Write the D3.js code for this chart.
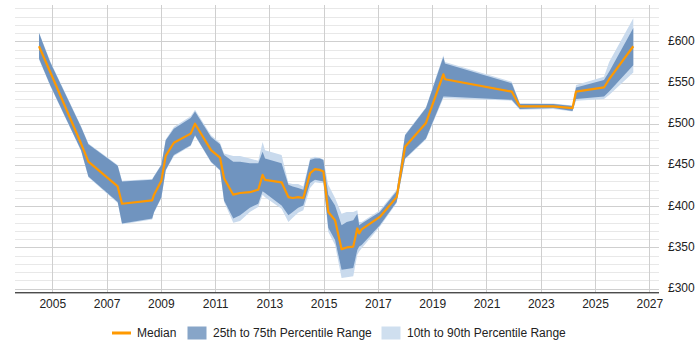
<!DOCTYPE html>
<html>
<head>
<meta charset="utf-8">
<script src="https://cdn.jsdelivr.net/npm/d3@7"></script>
<style>
  html, body { margin: 0; padding: 0; background: #fff; }
  svg { display: block; font-family: "Liberation Sans", Arial, sans-serif; }
</style>
</head>
<body>
<svg id="chart" width="700" height="350"></svg>
<script>
// ---- Data (decimal years, £ per day) ----
const years = [2004.51, 2004.92, 2006.06, 2006.33, 2007.41, 2007.57, 2008.68, 2008.75, 2009.02, 2009.18,
  2009.48, 2010.10, 2010.26, 2010.85, 2011.18, 2011.33, 2011.67, 2011.92, 2012.28, 2012.59,
  2012.75, 2012.84, 2013.45, 2013.70, 2013.86, 2014.06, 2014.25, 2014.50, 2014.68, 2014.86,
  2014.99, 2015.17, 2015.42, 2015.66, 2015.85, 2016.09, 2016.24, 2016.31, 2016.40, 2017.07,
  2017.69, 2018.00, 2018.77, 2019.41, 2019.47, 2021.93, 2022.23, 2023.46, 2024.17, 2024.30,
  2025.33, 2025.52, 2026.41];
const p10 = [578, 546, 467, 435, 404, 378, 384, 392, 410, 443,
  461, 473, 485, 453, 443, 405, 380, 382, 393, 399,
  414, 411, 397, 381, 386, 392, 395, 422, 429, 428,
  428, 369, 353, 313, 314, 315, 341, 345, 349, 375,
  404, 457, 481, 531, 531, 528, 517, 518, 515, 528,
  530, 535, 562];
const p25 = [579, 547, 468, 436, 405, 379, 385, 393, 411, 444,
  462, 474, 486, 454, 444, 407, 385, 389, 398, 403,
  418, 416, 401, 389, 393, 398, 401, 428, 432, 431,
  430, 374, 359, 323, 324, 325, 347, 351, 353, 377,
  405, 458, 482, 533, 533, 529, 518, 519, 515.5, 530,
  533, 539, 571];
const median = [594, 563, 476, 454, 424, 403, 407, 414, 431, 461,
  477, 488, 500, 468, 459, 434, 414, 416, 417, 420,
  438, 432, 429, 411, 410, 411, 410, 440, 445, 444,
  442, 393, 383, 348, 350, 351, 373, 367, 372, 387,
  411, 472, 501, 560, 554, 539, 521, 521, 519, 539,
  544, 554, 594];
const p75 = [610, 575, 496, 475, 449, 430, 432, 436, 450, 480,
  494, 507, 515, 484, 475, 462, 454, 454, 452, 452,
  466, 458, 452, 426, 424, 422, 420, 456, 458, 458,
  456, 414, 401, 377, 381, 383, 391, 377, 379, 393,
  418, 486, 519, 581, 573, 549, 524, 524, 521.5, 544,
  553, 563, 616];
const p90 = [611, 576, 497, 476, 450, 431, 433, 437, 451, 481,
  496, 509, 517, 486, 477, 464, 461, 461, 458, 455,
  478, 468, 462, 428, 427, 427, 424, 458, 460, 458.5,
  457, 426, 410, 391, 393, 393, 395, 381, 381, 395,
  420, 487, 520, 583, 575, 551, 525, 524.5, 522, 547,
  557, 575, 628];
const xTicks = [2005, 2007, 2009, 2011, 2013, 2015, 2017, 2019, 2021, 2023, 2025, 2027];
const yTicks = [300, 350, 400, 450, 500, 550, 600];
const legendLabels = ["Median", "25th to 75th Percentile Range", "10th to 90th Percentile Range"];

// ---- Layout ----
const plot = { left: 15, right: 659, top: 5, bottom: 292.3 };
const colors = { median: "#ff9900", iqr: "#7094bf", dec: "#c9daed", iqrLegend: "#87a5c8", decLegend: "#cfdfef" };

const data = years.map((y, i) => ({ y, p10: p10[i], p25: p25[i], m: median[i], p75: p75[i], p90: p90[i] }));

const x = d3.scaleLinear().domain([2003.626, 2027.357]).range([plot.left, plot.right]);
const y = d3.scaleLinear().domain([295.6, 644]).range([plot.bottom, plot.top]);

const svg = d3.select("#chart");

// gridlines
const g = svg.append("g");
const minor = d3.range(310, 645, 10).filter(v => v % 50 !== 0);
g.selectAll("line.minor").data(minor).join("line")
  .attr("x1", plot.left).attr("x2", plot.right)
  .attr("y1", d => Math.round(y(d)) + 0.5).attr("y2", d => Math.round(y(d)) + 0.5)
  .attr("stroke", "#e8e8e8").attr("stroke-width", 1);
g.selectAll("line.major").data(yTicks).join("line")
  .attr("x1", plot.left).attr("x2", plot.right)
  .attr("y1", d => Math.round(y(d)) + 0.5).attr("y2", d => Math.round(y(d)) + 0.5)
  .attr("stroke", "#cfcfcf").attr("stroke-width", 1);
g.selectAll("line.vert").data(xTicks).join("line")
  .attr("x1", d => Math.round(x(d)) + 0.5).attr("x2", d => Math.round(x(d)) + 0.5)
  .attr("y1", plot.top).attr("y2", plot.bottom)
  .attr("stroke", "#cfcfcf").attr("stroke-width", 1);

// bands
const areaDec = d3.area().x(d => x(d.y)).y0(d => y(d.p10)).y1(d => y(d.p90));
const areaIqr = d3.area().x(d => x(d.y)).y0(d => y(d.p25)).y1(d => y(d.p75));
svg.append("path").datum(data).attr("d", areaDec).attr("fill", colors.dec);
svg.append("path").datum(data).attr("d", areaIqr).attr("fill", colors.iqr);

// median
const line = d3.line().x(d => x(d.y)).y(d => y(d.m));
svg.append("path").datum(data).attr("d", line)
  .attr("fill", "none").attr("stroke", colors.median).attr("stroke-width", 2.2)
  .attr("stroke-linejoin", "round");

// x axis
const xAxis = d3.axisBottom(x).tickValues(xTicks).tickFormat(d3.format("d")).tickSize(0).tickPadding(7);
const xg = svg.append("g").attr("transform", `translate(0,${plot.bottom})`).call(xAxis);
xg.select(".domain").attr("stroke", "#000").attr("d", `M${plot.left},0.5H${plot.right}`);
xg.selectAll("text").attr("font-size", 12).attr("fill", "#222").attr("font-family", "Liberation Sans, Arial, sans-serif");

// y axis (right)
const yAxis = d3.axisRight(y).tickValues(yTicks).tickFormat(d => "£" + d).tickSize(0).tickPadding(9);
const yg = svg.append("g").attr("transform", `translate(${plot.right},-1)`).call(yAxis);
yg.select(".domain").remove();
yg.selectAll("text").attr("font-size", 12).attr("fill", "#222").attr("font-family", "Liberation Sans, Arial, sans-serif");

// legend
const leg = svg.append("g").attr("font-size", 12).attr("fill", "#222");
leg.append("line").attr("x1", 112).attr("x2", 131).attr("y1", 333).attr("y2", 333)
  .attr("stroke", colors.median).attr("stroke-width", 3);
leg.append("text").attr("x", 137).attr("y", 337.3).text(legendLabels[0]);
leg.append("rect").attr("x", 187.5).attr("y", 326.5).attr("width", 19).attr("height", 13).attr("fill", colors.iqrLegend);
leg.append("text").attr("x", 213).attr("y", 337.3).text(legendLabels[1]);
leg.append("rect").attr("x", 381.5).attr("y", 326.5).attr("width", 19).attr("height", 13).attr("fill", colors.decLegend);
leg.append("text").attr("x", 407).attr("y", 337.3).text(legendLabels[2]);
</script>
</body>
</html>
